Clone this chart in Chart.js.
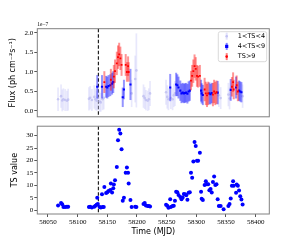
<!DOCTYPE html>
<html>
<head>
<meta charset="utf-8">
<script src="https://cdn.jsdelivr.net/npm/chart.js@4.4.0/dist/chart.umd.min.js"></script>
<style>
  body { margin: 0; background: #fff; }
  #wrap { position: relative; width: 300px; height: 240px; }
  canvas { position: absolute; left: 0; }
  #flux { top: 0; }
  #ts { top: 121px; }
</style>
</head>
<body>
<div id="wrap">
  <canvas id="flux" width="300" height="122"></canvas>
  <canvas id="ts" width="300" height="119"></canvas>
</div>
<script>
// Data
const timeTicks = [58050, 58100, 58150, 58200, 58250, 58300, 58350, 58400];
const fluxTicks = [0, 0.5, 1.0, 1.5, 2.0];
const tsTicks = [0, 5, 10, 15, 20, 25, 30];
const flareStart = 58135;

const tsDays = [58067, 58072, 58074, 58076, 58079, 58082, 58084,
  58119, 58121, 58124, 58128, 58130, 58132, 58133, 58134, 58137, 58139, 58141, 58142, 58144,
  58145, 58148, 58150, 58152, 58155, 58156, 58158, 58160, 58161, 58163, 58166, 58168, 58170,
  58172, 58174, 58176, 58178, 58181, 58183, 58185, 58186, 58189, 58191, 58197, 58199,
  58211, 58213, 58215, 58218, 58220, 58222,
  58249, 58251, 58253, 58256, 58257, 58260, 58262, 58264, 58266, 58268, 58270, 58273, 58275,
  58277, 58279, 58281, 58283, 58285, 58287, 58289, 58291, 58293, 58295, 58297, 58299, 58301,
  58303, 58306, 58308, 58309, 58311, 58314, 58316, 58318, 58320, 58322, 58324, 58326, 58328,
  58330, 58332, 58334, 58336, 58338, 58341, 58346, 58354, 58356, 58358, 58360, 58362, 58363,
  58367, 58368, 58370, 58372, 58374, 58376, 58378];
const tsValues = [1.9, 2.9, 2.4, 1.3, 1.3, 1.4, 1.4,
  1.3, 1.4, 1.1, 1.4, 1.8, 2.2, 5.0, 2.5, 1.3, 1.1, 6.4, 1.3, 1.3,
  9.4, 6.9, 7.2, 7.7, 8.1, 10.8, 7.1, 8.9, 10.4, 12.1, 17.4, 28.2, 32.4,
  30.9, 24.5, 3.8, 5.0, 15.1, 17.2, 15.1, 10.8, 4.1, 1.3, 1.4, 1.3,
  2.5, 2.9, 1.9, 1.7, 1.7, 1.5,
  2.2, 1.8, 1.0, 4.4, 1.3, 1.7, 1.8, 3.8, 7.4, 7.2, 6.1, 5.3, 4.4,
  5.1, 6.5, 6.4, 6.0, 4.2, 7.0, 7.2, 15.1, 13.1, 19.6, 27.4, 25.8, 19.9,
  19.9, 23.1, 7.4, 4.6, 4.1, 10.2, 11.7, 10.5, 10.5, 8.0, 8.6, 7.1, 11.4,
  13.6, 10.2, 10.5, 4.4, 1.7, 1.7, 0.4, 1.7, 2.5, 4.7, 9.9, 11.7, 9.9,
  7.0, 10.4, 9.9, 7.9, 5.6, 4.3, 2.3];

// flux in units of 1e-7 ph cm^-2 s^-1
const lowDays = [58067, 58072, 58074, 58076, 58079, 58082, 58084, 58119, 58121, 58124, 58128,
  58130, 58132, 58134, 58137, 58139, 58142, 58144, 58191, 58197, 58199, 58211, 58213, 58215,
  58218, 58220, 58222, 58249, 58251, 58253, 58257, 58260, 58262, 58264, 58338, 58341, 58354,
  58356, 58378];
const lowFlux = [0.30, 0.38, 0.27, 0.30, 0.28, 0.26, 0.29, 0.31, 0.34, 0.28, 0.36,
  0.30, 0.26, 0.33, 0.24, 0.22, 0.30, 0.34, 0.45, 0.82, 1.04, 0.38, 0.33, 0.28,
  0.26, 0.30, 0.45, 0.48, 0.36, 0.30, 0.33, 0.30, 0.40, 0.45, 0.40, 0.33, 0.42,
  0.32, 0.38];
const lowErr = [0.3, 0.3, 0.28, 0.28, 0.28, 0.26, 0.28, 0.3, 0.3, 0.28, 0.3,
  0.28, 0.26, 0.3, 0.26, 0.24, 0.28, 0.3, 0.35, 0.6, 0.95, 0.3, 0.28, 0.26,
  0.26, 0.28, 0.32, 0.32, 0.3, 0.28, 0.28, 0.28, 0.3, 0.32, 0.3, 0.28, 0.3,
  0.28, 0.3];

const midDays = [58133, 58141, 58148, 58150, 58152, 58155, 58158, 58160, 58176, 58178, 58189,
  58256, 58266, 58268, 58270, 58273, 58275, 58277, 58279, 58281, 58283, 58285, 58287, 58289,
  58308, 58309, 58311, 58322, 58324, 58326, 58336, 58358, 58367, 58372, 58374, 58376];
const midFlux = [0.62, 0.62, 0.62, 0.60, 0.64, 0.66, 0.70, 0.74, 0.35, 0.55, 0.68,
  0.60, 0.68, 0.66, 0.60, 0.52, 0.45, 0.47, 0.45, 0.46, 0.47, 0.44, 0.50, 0.52,
  0.52, 0.45, 0.41, 0.45, 0.43, 0.46, 0.47, 0.54, 0.60, 0.52, 0.50, 0.48];
const midErr = [0.3, 0.3, 0.28, 0.28, 0.28, 0.28, 0.28, 0.28, 0.25, 0.25, 0.4,
  0.35, 0.3, 0.28, 0.28, 0.26, 0.25, 0.25, 0.25, 0.25, 0.25, 0.25, 0.26, 0.26,
  0.28, 0.26, 0.26, 0.28, 0.26, 0.26, 0.3, 0.28, 0.28, 0.26, 0.26, 0.26];

const highDays = [58145, 58156, 58161, 58163, 58166, 58168, 58170, 58172, 58174, 58181, 58183,
  58185, 58186, 58291, 58293, 58295, 58297, 58299, 58301, 58303, 58306, 58314, 58316, 58318,
  58320, 58328, 58330, 58332, 58334, 58360, 58362, 58363, 58368, 58370];
const highFlux = [0.74, 0.80, 0.88, 1.02, 1.22, 1.38, 1.45, 1.35, 1.18, 1.18, 1.00,
  1.15, 1.00, 0.78, 0.90, 1.02, 1.15, 1.08, 0.90, 0.88, 0.90, 0.55, 0.45, 0.40,
  0.45, 0.42, 0.50, 0.45, 0.48, 0.62, 0.74, 0.55, 0.66, 0.50];
const highErr = [0.28, 0.28, 0.3, 0.3, 0.3, 0.3, 0.3, 0.3, 0.28, 0.28, 0.25,
  0.25, 0.25, 0.25, 0.28, 0.3, 0.3, 0.3, 0.28, 0.28, 0.28, 0.3, 0.3, 0.3,
  0.3, 0.3, 0.3, 0.3, 0.3, 0.25, 0.25, 0.25, 0.25, 0.25];

Chart.defaults.font.family = 'DejaVu Sans';
Chart.defaults.color = '#000';

const tickFont = { family: 'Liberation Serif', size: 7 };
const points = (days, vals) => days.map((d, i) => ({ x: d, y: vals[i] }));

// Plugins
const errorBars = {
  id: 'errorBars',
  beforeDatasetDraw(chart, args) {
    const ds = chart.data.datasets[args.index];
    if (!ds.errors) return;
    const { x, y } = chart.scales;
    const ctx = chart.ctx;
    ctx.save();
    ctx.strokeStyle = ds.errorColor;
    ctx.lineWidth = ds.errorWidth;
    ds.data.forEach((p, i) => {
      const px = x.getPixelForValue(p.x);
      ctx.beginPath();
      ctx.moveTo(px, y.getPixelForValue(p.y - ds.errors[i]));
      ctx.lineTo(px, y.getPixelForValue(p.y + ds.errors[i]));
      ctx.stroke();
    });
    ctx.restore();
  }
};

const frame = {
  id: 'frame',
  beforeDatasetsDraw(chart) {
    const { ctx, chartArea: a, scales } = chart;
    const px = scales.x.getPixelForValue(flareStart);
    ctx.save();
    ctx.setLineDash([3.5, 2]);
    ctx.strokeStyle = '#222';
    ctx.lineWidth = 1.2;
    ctx.beginPath();
    ctx.moveTo(px, a.top);
    ctx.lineTo(px, a.bottom);
    ctx.stroke();
    ctx.restore();
  },
  afterDraw(chart, args, opts) {
    const { ctx, chartArea: a } = chart;
    ctx.save();
    ctx.strokeStyle = '#808080';
    ctx.lineWidth = 1;
    ctx.strokeRect(a.left, a.top, a.right - a.left, a.bottom - a.top);
    if (opts.offsetText) {
      ctx.font = '5.5px "Liberation Serif"';
      ctx.fillStyle = '#000';
      ctx.textBaseline = 'bottom';
      ctx.fillText(opts.offsetText, a.left, a.top - 1);
    }
    // legend box
    const L = opts.legend;
    if (L) {
      ctx.fillStyle = 'rgba(255,255,255,0.85)';
      ctx.strokeStyle = '#d0d0d0';
      ctx.lineWidth = 0.8;
      ctx.beginPath();
      ctx.roundRect(L.x, L.y, L.w, L.h, 2);
      ctx.fill();
      ctx.stroke();
      ctx.font = L.font;
      ctx.textBaseline = 'middle';
      L.items.forEach((it, i) => {
        const cy = L.y + L.first + i * L.step;
        const mx = L.x + L.marker;
        if (it.barColor) {
          ctx.strokeStyle = it.barColor;
          ctx.lineWidth = 2;
          ctx.beginPath();
          ctx.moveTo(mx, cy - 3.5);
          ctx.lineTo(mx, cy + 3.5);
          ctx.stroke();
        }
        ctx.fillStyle = it.color;
        ctx.beginPath();
        if (it.square) ctx.rect(mx - 1.6, cy - 1.6, 3.2, 3.2);
        else ctx.arc(mx, cy, it.r, 0, Math.PI * 2);
        ctx.fill();
        ctx.fillStyle = '#000';
        ctx.fillText(it.label, L.x + L.text, cy);
      });
    }
    ctx.restore();
  }
};

// Top panel: flux
new Chart(document.getElementById('flux'), {
  type: 'scatter',
  data: {
    datasets: [
      {
        label: '1<TS<4', data: points(lowDays, lowFlux), errors: lowErr,
        errorColor: 'rgba(205,205,248,0.45)', errorWidth: 1.7, order: 3,
        pointStyle: 'circle', pointRadius: 1.3, backgroundColor: 'rgba(185,185,240,0.7)', borderWidth: 0
      },
      {
        label: '4<TS<9', data: points(midDays, midFlux), errors: midErr,
        errorColor: 'rgba(0,0,255,0.42)', errorWidth: 2, order: 2,
        pointStyle: 'rect', pointRadius: 1.5, backgroundColor: '#0000ff', borderWidth: 0
      },
      {
        label: 'TS>9', data: points(highDays, highFlux), errors: highErr,
        errorColor: 'rgba(255,0,0,0.42)', errorWidth: 2, order: 1,
        pointStyle: 'rect', pointRadius: 1.3, backgroundColor: '#ff0000', borderWidth: 0
      }
    ]
  },
  options: {
    responsive: false,
    animation: false,
    devicePixelRatio: 1,
    layout: { padding: { left: 0, right: 30.7, top: 28.7, bottom: 0.7 } },
    scales: {
      x: { type: 'linear', min: 58032, max: 58423, display: false },
      y: {
        min: -0.15, max: 2.11,
        afterFit: (s) => { s.width = 37.3; },
        afterBuildTicks: (s) => { s.ticks = fluxTicks.map(v => ({ value: v })); },
        ticks: { font: tickFont, padding: 1, callback: v => v.toFixed(1) },
        grid: { drawOnChartArea: false, tickLength: 3, color: '#555' },
        border: { display: false },
        title: { display: true, text: 'Flux (ph cm⁻²s⁻¹)', font: { size: 8 }, padding: { top: 8.5, bottom: 0 } }
      }
    },
    plugins: {
      legend: { display: false },
      tooltip: { enabled: false },
      frame: {
        offsetText: '1e−7',
        legend: {
          x: 218.3, y: 31.7, w: 48.4, h: 30, first: 4.5, step: 10.2, marker: 8.4, text: 19.5,
          font: '6.5px "DejaVu Sans"',
          items: [
            { label: '1<TS<4', color: 'rgba(185,185,240,0.8)', barColor: 'rgba(205,205,248,0.6)', r: 1.3 },
            { label: '4<TS<9', color: '#0000ff', barColor: 'rgba(0,0,255,0.5)', square: true },
            { label: 'TS>9', color: '#ff0000', barColor: 'rgba(255,0,0,0.5)', r: 1.3 }
          ]
        }
      }
    }
  },
  plugins: [errorBars, frame]
});

// Bottom panel: TS
new Chart(document.getElementById('ts'), {
  type: 'scatter',
  data: {
    datasets: [{
      label: 'TS Value', data: points(tsDays, tsValues),
      pointRadius: 2, backgroundColor: '#0000ff', borderWidth: 0
    }]
  },
  options: {
    responsive: false,
    animation: false,
    devicePixelRatio: 1,
    layout: { padding: { left: 0, right: 30.7, top: 0.3, bottom: 0 } },
    scales: {
      x: {
        type: 'linear', min: 58032, max: 58423,
        afterFit: (s) => { s.height = 26; },
        afterBuildTicks: (s) => { s.ticks = timeTicks.map(v => ({ value: v })); },
        ticks: { font: tickFont, padding: 1, maxRotation: 0, callback: v => String(v) },
        grid: { drawOnChartArea: false, tickLength: 3, color: '#555' },
        border: { display: false },
        title: { display: true, text: 'Time (MJD)', font: { size: 8 }, padding: { top: 0, bottom: 3.7 } }
      },
      y: {
        min: -1.5, max: 33.8,
        afterFit: (s) => { s.width = 37.3; },
        afterBuildTicks: (s) => { s.ticks = tsTicks.map(v => ({ value: v })); },
        ticks: { font: tickFont, padding: 1, callback: v => String(v) },
        grid: { drawOnChartArea: false, tickLength: 3, color: '#555' },
        border: { display: false },
        title: { display: true, text: 'TS value', font: { size: 8 }, padding: { top: 10, bottom: 0 } }
      }
    },
    plugins: {
      legend: { display: false },
      tooltip: { enabled: false },
      frame: {
        legend: {
          x: 216.7, y: 124, w: 50, h: 11, first: 5.5, step: 10, marker: 9.5, text: 21.5,
          font: '6.3px "DejaVu Sans"',
          items: [{ label: 'TS Value', color: '#0000ff', r: 2 }]
        }
      }
    }
  },
  plugins: [errorBars, frame]
});
</script>
</body>
</html>
